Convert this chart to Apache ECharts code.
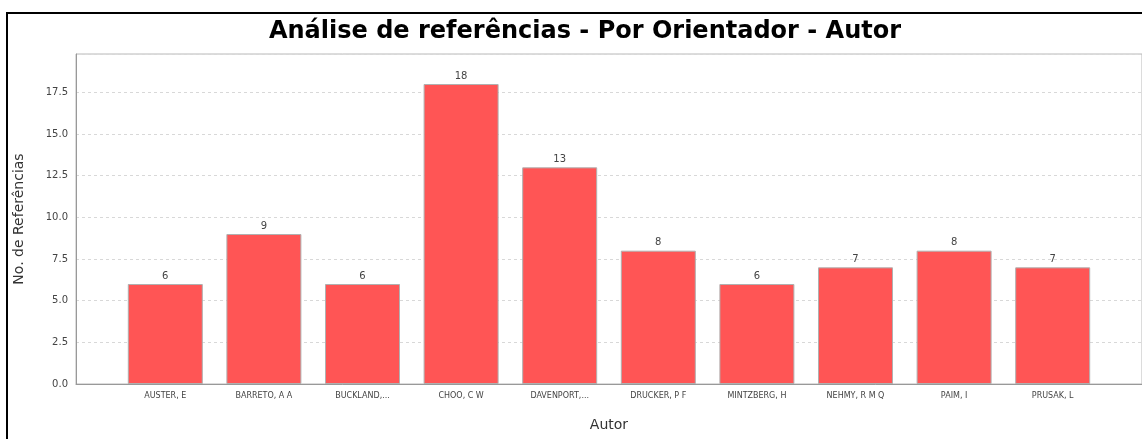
<!DOCTYPE html>
<html><head><meta charset="utf-8">
<script src="https://cdn.jsdelivr.net/npm/echarts@6/dist/echarts.min.js"></script>
<style>html,body{margin:0;padding:0;background:#fff}#c{width:1142px;height:439px}</style>
</head><body><div id="c"></div>
<script>
const categories = ['AUSTER, E','BARRETO, A A','BUCKLAND,...','CHOO, C W','DAVENPORT,...','DRUCKER, P F','MINTZBERG, H','NEHMY, R M Q','PAIM, I','PRUSAK, L'];
const values = [6, 9, 6, 18, 13, 8, 6, 7, 8, 7];
const yMax = 19.8;
const yInterval = 2.5;

const chart = echarts.init(document.getElementById('c'), null, {renderer: 'canvas'});
const font = 'DejaVu Sans, Lucida Sans, sans-serif';
chart.setOption({
  animation: false,
  backgroundColor: '#fff',
  title: {
    text: 'Análise de referências - Por Orientador - Autor',
    left: 580, top: 15, textAlign: 'center',
    textStyle: {fontFamily: font, fontWeight: 'bold', fontSize: 24, color: '#000'}
  },
  graphic: [{
    type: 'rect', silent: true, z: 100,
    shape: {x: 7, y: 13, width: 1300, height: 600},
    style: {fill: 'none', stroke: '#000', lineWidth: 2}
  }],
  grid: [
    {left: 76, right: -3, top: 54, bottom: 55, show: true, borderColor: '#b8b8b8', borderWidth: 1, containLabel: false},
    {left: 116, right: 40, top: 54, bottom: 55, containLabel: false}
  ],
  xAxis: [
    {type: 'category', gridIndex: 0, data: categories, axisLine: {show: true, lineStyle: {color: '#999'}},
     axisTick: {show: false}, axisLabel: {show: false}, splitLine: {show: false},
     name: 'Autor', nameLocation: 'middle', nameGap: 34,
     nameTextStyle: {fontFamily: font, fontSize: 14, color: '#333'}},
    {type: 'category', gridIndex: 1, data: categories, axisLine: {show: false}, axisTick: {show: false},
     axisLabel: {fontFamily: font, fontSize: 8, color: '#444', margin: 8, interval: 0}}
  ],
  yAxis: [
    {type: 'value', gridIndex: 0, min: 0, max: yMax, interval: yInterval,
     axisLine: {show: true, lineStyle: {color: '#999'}},
     axisTick: {show: false},
     axisLabel: {fontFamily: font, fontSize: 10, color: '#444', margin: 8,
       formatter: v => (Math.abs(v / yInterval - Math.round(v / yInterval)) < 1e-6) ? v.toFixed(1) : ''},
     splitLine: {show: true, lineStyle: {type: [3, 3], color: '#d8d8d8'}},
     name: 'No. de Referências', nameLocation: 'middle', nameGap: 50,
     nameTextStyle: {fontFamily: font, fontSize: 14, color: '#333'}},
    {type: 'value', gridIndex: 1, min: 0, max: yMax, show: false}
  ],
  series: [{
    type: 'bar', xAxisIndex: 1, yAxisIndex: 1, data: values, barWidth: 75,
    itemStyle: {color: '#FF5555', borderColor: '#b0b0b0', borderWidth: 1},
    label: {show: true, position: 'top', distance: 3, fontFamily: font, fontSize: 10, color: '#444'}
  }]
});
</script></body></html>
